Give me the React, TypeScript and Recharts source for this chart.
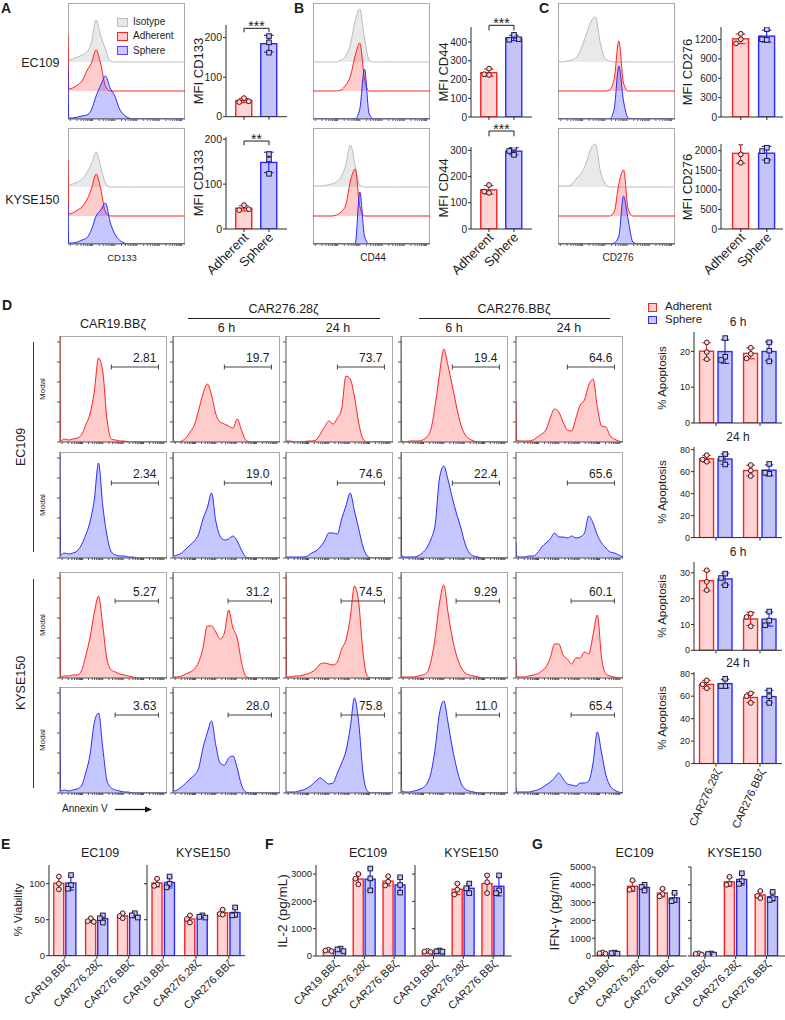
import React from 'react';
import { ComposedChart, Area, Bar, Scatter, XAxis, YAxis, ReferenceLine } from 'recharts';

/* ── Colours ──────────────────────────────────────── */
const RED = '#ff2020';
const BLUE = '#2a2aff';
const RED_FILL = '#ffd4d4';
const BLUE_FILL = '#c4c4f6';
const RED_AREA = 'rgba(255, 40, 40, 0.24)';
const BLUE_AREA = 'rgba(40, 40, 255, 0.26)';
const ISO_LINE = '#bbbbbb';
const ISO_AREA = 'rgba(175, 175, 175, 0.28)';
const INK = '#1c1c1c';
const AXIS = '#2b2b2b';
const FRAME = '#a9a9a9';
const FONT = '"Liberation Sans", Arial, sans-serif';

/* ── Flow histograms: x is % of the log axis ──────── */
const HIST_X = [0, 0.6, 4, 8, 12, 16, 20, 24, 28, 32, 36, 40, 44, 48, 52, 56, 60, 64, 68, 72, 76, 80, 84, 88, 92, 96, 100];

// A-C overlays (height above each trace's own baseline)
const A_EC109_ISO = [5, 2, 3, 5, 7, 10, 19, 42, 26, 13, 1, 0];
const A_EC109_ADH = [56, 2, 3, 6, 10, 20, 28, 41, 27, 5, 0];
const A_EC109_SPH = [53, 1, 1, 2, 3, 4, 9, 23, 34, 43, 31, 23, 10, 4, 1, 0];
const A_KYSE_ISO = [7, 2, 3, 5, 8, 14, 23, 35, 20, 4, 0];
const A_KYSE_ADH = [56, 2, 3, 6, 9, 16, 27, 42, 27, 4, 0];
const A_KYSE_SPH = [41, 1, 1, 2, 4, 6, 14, 28, 34, 41, 22, 10, 4, 1, 0];
const B_EC109_ISO = [0, 0, 0, 0, 0, 0, 0, 2, 6, 18, 41, 53, 24, 2, 0];
const B_EC109_ADH = [0, 0, 0, 0, 0, 0, 0, 1, 6, 15, 35, 48, 12, 0];
const B_EC109_SPH = [0, 0, 0, 0, 0, 0, 0, 0, 0, 0, 0, 10, 50, 5, 0];
const B_KYSE_ISO = [10, 1, 1, 1, 2, 3, 5, 10, 22, 42, 22, 2, 0];
const B_KYSE_ADH = [0, 0, 0, 0, 0, 0, 1, 4, 11, 35, 47, 10, 0];
const B_KYSE_SPH = [0, 0, 0, 0, 0, 0, 0, 0, 0, 0, 0, 52, 8, 0];
const C_EC109_ISO = [19, 1, 0, 1, 2, 5, 14, 27, 40, 45, 20, 4, 1, 0];
const C_EC109_ADH = [0, 0, 0, 0, 0, 0, 0, 0, 0, 0, 0, 0, 1, 12, 50, 8, 0];
const C_EC109_SPH = [0, 0, 0, 0, 0, 0, 0, 0, 0, 0, 0, 0, 0, 10, 53, 18, 1, 0];
const C_KYSE_ISO = [20, 1, 1, 1, 3, 9, 14, 24, 38, 43, 17, 4, 0];
const C_KYSE_ADH = [0, 0, 0, 0, 0, 0, 0, 0, 0, 0, 0, 0, 0, 4, 32, 46, 7, 0];
const C_KYSE_SPH = [0, 0, 0, 0, 0, 0, 0, 0, 0, 0, 0, 0, 0, 1, 8, 48, 24, 2, 0];

// D annexin V, % of mode, columns: CAR19.BBζ, 28ζ 6h, 28ζ 24h, BBζ 6h, BBζ 24h
const D_EC109_ADH = [
    [106, 1, 3, 2, 3, 4, 7, 17, 28, 50, 84, 70, 22, 3, 2, 1, 1, 0],
    [103, 1, 0, 1, 4, 10, 17, 32, 48, 58, 47, 28, 20, 18, 16, 14, 23, 12, 2, 0],
    [1, 1, 1, 0, 0, 0, 1, 1, 2, 8, 15, 21, 18, 24, 33, 66, 63, 45, 19, 3, 0],
    [102, 1, 0, 1, 1, 1, 2, 5, 13, 37, 68, 93, 76, 56, 35, 17, 7, 3, 1, 0],
    [40, 2, 1, 1, 1, 2, 5, 8, 12, 24, 33, 30, 20, 12, 11, 24, 37, 42, 57, 63, 35, 16, 15, 6, 3, 1, 0],
];
const D_EC109_SPH = [
    [105, 3, 5, 4, 5, 7, 13, 23, 36, 58, 95, 52, 22, 6, 3, 2, 2, 1, 1, 0],
    [105, 2, 3, 5, 9, 13, 17, 24, 39, 50, 65, 37, 22, 18, 19, 22, 17, 8, 1, 0],
    [1, 1, 1, 1, 1, 1, 2, 5, 7, 11, 17, 25, 25, 24, 39, 52, 65, 47, 29, 11, 2, 0],
    [105, 2, 1, 1, 1, 2, 5, 10, 19, 34, 80, 92, 78, 60, 44, 30, 14, 5, 2, 1, 0],
    [16, 2, 1, 1, 2, 2, 5, 11, 15, 19, 25, 21, 21, 20, 22, 20, 21, 25, 42, 35, 23, 15, 10, 6, 5, 3, 1],
];
const D_KYSE_ADH = [
    [104, 1, 2, 2, 3, 3, 7, 22, 40, 65, 82, 52, 18, 8, 6, 4, 3, 2, 1, 0],
    [104, 1, 1, 2, 4, 6, 9, 16, 30, 52, 52, 46, 39, 45, 68, 50, 40, 16, 2, 0],
    [104, 1, 1, 2, 2, 3, 4, 6, 9, 14, 15, 14, 13, 16, 29, 38, 60, 92, 75, 25, 2, 0],
    [104, 1, 1, 1, 1, 2, 3, 5, 17, 41, 75, 93, 65, 40, 22, 11, 5, 3, 2, 1, 0],
    [19, 2, 1, 1, 2, 3, 4, 7, 11, 20, 34, 34, 23, 19, 14, 20, 20, 26, 24, 43, 63, 20, 4, 2, 1, 0],
];
const D_KYSE_SPH = [
    [104, 2, 3, 2, 3, 4, 7, 20, 38, 70, 80, 45, 12, 5, 3, 2, 1, 1, 0],
    [104, 2, 3, 6, 10, 14, 18, 25, 45, 60, 72, 48, 30, 28, 35, 37, 25, 8, 1, 0],
    [1, 1, 1, 1, 2, 3, 5, 8, 12, 15, 12, 9, 10, 20, 30, 42, 65, 95, 70, 20, 2, 0],
    [104, 2, 1, 1, 2, 3, 5, 9, 20, 45, 80, 92, 70, 45, 25, 10, 4, 2, 1, 0],
    [5, 1, 1, 1, 1, 2, 3, 5, 8, 11, 15, 20, 14, 9, 8, 7, 10, 10, 12, 30, 61, 40, 18, 7, 3, 1, 0],
];
const D_PCT = [
    ['2.81', '19.7', '73.7', '19.4', '64.6'],
    ['2.34', '19.0', '74.6', '22.4', '65.6'],
    ['5.27', '31.2', '74.5', '9.29', '60.1'],
    ['3.63', '28.0', '75.8', '11.0', '65.4'],
];
const GATE_EC109 = [48, 92];
const GATE_KYSE = [51.5, 92];
const GATE_Y = [75, 75, 77, 78];
const MODAL_TICKS = [0, 20, 40, 60, 80, 100];

/* ── Bar data: replicate values ───────────────────── */
const MFI_GROUPS = ['Adherent', 'Sphere'];
const CD133_EC109_ADH = [47, 37, 39];
const CD133_EC109_SPH = [204, 188, 162];
const CD133_KYSE_ADH = [53, 42, 44];
const CD133_KYSE_SPH = [167, 155, 123];
const CD44_EC109_ADH = [258, 224, 228];
const CD44_EC109_SPH = [438, 412, 415];
const CD44_KYSE_ADH = [168, 138, 143];
const CD44_KYSE_SPH = [310, 298, 283];
const CD276_EC109_ADH = [1290, 1205, 1140];
const CD276_EC109_SPH = [1360, 1195, 1205];
const CD276_KYSE_ADH = [2200, 1905, 1690];
const CD276_KYSE_SPH = [2074, 1990, 1742];

const APO_GROUPS = ['CAR276.28ζ', 'CAR276.BBζ'];
const APO_6H_EC109_ADH = [[22.5, 19.8, 17.8], [21.0, 19.3, 18.0]];
const APO_6H_EC109_SPH = [[23.7, 18.5, 17.6], [22.5, 20.2, 17.2]];
const APO_24H_EC109_ADH = [[75, 69, 71], [66, 61, 56]];
const APO_24H_EC109_SPH = [[76, 71.8, 66.5], [67, 58, 59]];
const APO_6H_KYSE_ADH = [[31, 26.5, 23.3], [14.2, 12.9, 9.3]];
const APO_6H_KYSE_SPH = [[29.7, 28, 25.2], [15, 11.5, 9.7]];
const APO_24H_KYSE_ADH = [[74, 70.5, 67], [62.5, 60, 54]];
const APO_24H_KYSE_SPH = [[75.5, 69, 69], [65, 60, 54]];

const CAR_GROUPS = ['CAR19.BBζ', 'CAR276.28ζ', 'CAR276.BBζ'];
const VIAB_EC109_ADH = [[110, 100, 92], [52, 48, 47], [59, 55, 52]];
const VIAB_EC109_SPH = [[112, 98, 93], [56, 52, 46], [59, 56, 53]];
const VIAB_KYSE_ADH = [[107, 99, 97], [56, 51, 46], [64, 58, 57]];
const VIAB_KYSE_SPH = [[110, 100, 95], [56, 54, 53], [67, 57, 56]];
const IL2_EC109_ADH = [[230, 200, 180], [3000, 2830, 2620], [2920, 2720, 2580]];
const IL2_EC109_SPH = [[270, 240, 180], [3200, 2840, 2400], [2880, 2600, 2320]];
const IL2_KYSE_ADH = [[190, 160, 150], [2650, 2430, 2250], [2950, 2700, 2300]];
const IL2_KYSE_SPH = [[200, 170, 160], [2650, 2480, 2300], [2950, 2400, 2300]];
const IFN_EC109_ADH = [[200, 150, 130], [4250, 3780, 3720], [3780, 3480, 3350]];
const IFN_EC109_SPH = [[190, 160, 130], [4000, 3880, 3680], [3550, 3150, 3080]];
const IFN_KYSE_ADH = [[150, 120, 80], [4450, 4050, 4000], [3650, 3380, 3250]];
const IFN_KYSE_SPH = [[140, 110, 80], [4650, 4200, 4050], [3600, 3250, 3150]];

/* ── Helpers ──────────────────────────────────────── */
const LOG_TICKS: number[] = [];
[2, 21, 40, 59, 78, 97].forEach((d) => [1, 2, 3, 4, 5, 6, 7, 8, 9].forEach((k) => {
    const t = d + 19 * Math.log10(k);
    if (t <= 100) LOG_TICKS.push(Math.round(t * 10) / 10);
}));

const noTick = () => <g />;
const mean = (a: number[]) => a.reduce((s, v) => s + v, 0) / a.length;
const sd = (a: number[]) => {
    const m = mean(a);
    return Math.sqrt(a.reduce((s, v) => s + (v - m) ** 2, 0) / (a.length - 1));
};

// simple beeswarm: shift replicates sideways when they would overlap
const spread = (vals: number[], k: number, j: number) => {
    const placed: { v: number; o: number }[] = [];
    return vals.map((v) => {
        const used = placed.filter((q) => Math.abs(q.v - v) * k < 5).map((q) => q.o);
        const o = [0, -j, j, -2 * j, 2 * j].find((c) => !used.includes(c)) ?? 0;
        placed.push({ v, o });
        return o;
    });
};

type Kind = 'adh' | 'sph';
type BarSpec = { x: number; kind: Kind; pts: number[] };

const mfiBars = (adh: number[], sph: number[]): BarSpec[] => [
    { x: 0, kind: 'adh', pts: adh },
    { x: 1, kind: 'sph', pts: sph },
];
const pairBars = (adh: number[][], sph: number[][], off: number): BarSpec[] =>
    adh.flatMap((g, i) => [
        { x: i - off, kind: 'adh' as Kind, pts: g },
        { x: i + off, kind: 'sph' as Kind, pts: sph[i] },
    ]);

/* ── Text & rules ─────────────────────────────────── */
type LabelProps = { x: number; y: number; size?: number; rot?: number; align?: 'left' | 'center' | 'right'; bold?: boolean; children: React.ReactNode };
const Label: React.FC<LabelProps> = ({ x, y, size = 12, rot = 0, align = 'center', bold = false, children }) => {
    const tx = align === 'center' ? '-50%' : align === 'right' ? '-100%' : '0%';
    return (
        <div style={{
            position: 'absolute', left: x, top: y, fontSize: size, fontWeight: bold ? 700 : 400,
            lineHeight: 1, whiteSpace: 'nowrap', transform: `translate(${tx}, -50%) rotate(${rot}deg)`,
        }}>
            {children}
        </div>
    );
};

const Rule: React.FC<{ x: number; y: number; w: number; h: number; c?: string }> = ({ x, y, w, h, c = '#222' }) => (
    <div style={{ position: 'absolute', left: x, top: y, width: w, height: h, background: c }} />
);

const Swatch: React.FC<{ x: number; y: number; w: number; h: number; fill: string; line: string }> = ({ x, y, w, h, fill, line }) => (
    <div style={{ position: 'absolute', left: x, top: y, width: w, height: h, background: fill, border: `1.5px solid ${line}`, boxSizing: 'border-box' }} />
);

/* ── Overlaid histograms (A-C), one layer per trace ── */
const OV_W = 117;
const OV_H = 116;
const ISO_BASE = 57;
const ADH_BASE = 28;

// each layer spans the whole box; its own zero sits at `base` px above the box bottom
type TraceProps = { base: number; vals: number[]; stroke: string; fill: string; axis?: boolean };
const Trace: React.FC<TraceProps> = ({ base, vals, stroke, fill, axis = false }) => {
    const rows = HIST_X.map((x, i) => ({ x, v: vals[i] ?? 0 }));
    return (
        <div style={{ position: 'absolute', left: 0, top: 0 }}>
            <ComposedChart width={OV_W} height={OV_H + 3} data={rows} margin={{ top: 0, right: 0, bottom: 0, left: 0 }}>
                <XAxis type="number" dataKey="x" domain={[0, 100]} ticks={LOG_TICKS} interval={0} tick={noTick}
                    tickSize={axis ? 2 : 0} height={3} axisLine={axis ? { stroke: '#666' } : false}
                    tickLine={axis ? { stroke: '#666' } : false} allowDataOverflow />
                <YAxis type="number" domain={[-base, OV_H - base]} hide allowDataOverflow />
                <Area type="monotone" dataKey="v" baseValue={0} stroke={stroke} strokeWidth={1} fill={fill} fillOpacity={1}
                    isAnimationActive={false} dot={false} activeDot={false} />
            </ComposedChart>
        </div>
    );
};

type OverlayProps = { left: number; top: number; iso: number[]; adh: number[]; sph: number[] };
const OverlayHist: React.FC<OverlayProps> = ({ left, top, iso, adh, sph }) => (
    <div style={{ position: 'absolute', left, top, width: OV_W, height: OV_H }}>
        <div style={{ position: 'absolute', left: 0, top: 0, width: OV_W, height: OV_H, border: `1px solid ${FRAME}`, boxSizing: 'border-box' }} />
        <Trace base={ISO_BASE} vals={iso} stroke={ISO_LINE} fill={ISO_AREA} />
        <Trace base={ADH_BASE} vals={adh} stroke={RED} fill={RED_AREA} />
        <Trace base={0} vals={sph} stroke={BLUE} fill={BLUE_AREA} axis />
    </div>
);

/* ── Modal histograms (D) ─────────────────────────── */
const MH_W = 107;
const MH_H = 106;

const gateLabel = (text: string) => (props: any) => {
    const vb = props.viewBox || { x: 0, y: 0, width: 0 };
    return (
        <text x={vb.x + vb.width - 2} y={vb.y - 5} textAnchor="end" fontSize={12} fill={INK} fontFamily={FONT}>{text}</text>
    );
};

type ModalProps = { left: number; top: number; vals: number[]; kind: Kind; gate: number[]; gateY: number; pct: string };
const ModalHist: React.FC<ModalProps> = ({ left, top, vals, kind, gate, gateY, pct }) => {
    const rows = HIST_X.map((x, i) => ({ x, v: vals[i] ?? 0 }));
    return (
        <div style={{ position: 'absolute', left: left - 5, top }}>
            <div style={{ position: 'absolute', left: 5, top: 0, width: MH_W, height: MH_H, borderTop: `1px solid ${FRAME}`, borderRight: `1px solid ${FRAME}`, boxSizing: 'border-box' }} />
            <ComposedChart width={MH_W + 6} height={MH_H + 4} data={rows} margin={{ top: 0, right: 1, bottom: 0, left: 0 }}>
                <XAxis type="number" dataKey="x" domain={[0, 100]} ticks={LOG_TICKS} interval={0} tick={noTick}
                    tickSize={2} height={4} axisLine={{ stroke: '#555' }} tickLine={{ stroke: '#555' }} allowDataOverflow />
                <YAxis type="number" domain={[0, MH_H]} ticks={MODAL_TICKS} interval={0} tick={noTick}
                    tickSize={3} width={5} axisLine={{ stroke: '#555' }} tickLine={{ stroke: '#555' }} allowDataOverflow />
                <Area type="monotone" dataKey="v" stroke={kind === 'adh' ? RED : BLUE} strokeWidth={1}
                    fill={kind === 'adh' ? RED_AREA : BLUE_AREA} fillOpacity={1} isAnimationActive={false} dot={false} activeDot={false} />
                <ReferenceLine segment={[{ x: gate[0], y: gateY }, { x: gate[1], y: gateY }]} stroke="#444" ifOverflow="visible" label={gateLabel(pct)} />
                <ReferenceLine segment={[{ x: gate[0], y: gateY - 2.5 }, { x: gate[0], y: gateY + 2.5 }]} stroke="#444" ifOverflow="visible" />
                <ReferenceLine segment={[{ x: gate[1], y: gateY - 2.5 }, { x: gate[1], y: gateY + 2.5 }]} stroke="#444" ifOverflow="visible" />
            </ComposedChart>
        </div>
    );
};

/* ── Bar + replicate dots ─────────────────────────── */
const YW = 34;
const PAD_T = 26;

type Bracket = { y: number; leg: number; text: string };
type DotBarProps = {
    left: number; top: number; w: number; h: number;
    yMax: number; yTicks: number[]; yLabels?: boolean; tickFont?: number;
    xDomain: [number, number]; xTicks: number[]; xLabels?: string[];
    labelAngle?: number; labelFont?: number; bottom?: number;
    bars: BarSpec[]; barW: number; bracket?: Bracket;
};

const dot = (s: any) => {
    const { cx, cy, payload } = s;
    if (payload.kind === 'adh') {
        return <circle cx={cx} cy={cy} r={2.4} fill={RED_FILL} stroke="#3a1c1c" strokeWidth={1} />;
    }
    return <rect x={cx - 2.3} y={cy - 2.3} width={4.6} height={4.6} fill={BLUE_FILL} stroke="#1c1c3a" strokeWidth={1} />;
};

const DotBar: React.FC<DotBarProps> = (p) => {
    const k = p.h / p.yMax;
    const ppu = p.w / (p.xDomain[1] - p.xDomain[0]);
    const jx = (p.barW * 0.3) / ppu;
    const rows = p.bars.map((b) => ({ x: b.x, mean: mean(b.pts), sd: sd(b.pts), kind: b.kind }));
    const pts = p.bars.flatMap((b) => {
        const off = spread(b.pts, k, jx);
        return b.pts.map((v, i) => ({ x: b.x + off[i], y: v, kind: b.kind }));
    });
    const bottom = p.bottom ?? 6;

    // bar body with its own width, plus mean ± SD whisker
    const shape = (s: any) => {
        const { x, y, width, height, payload } = s;
        const col = payload.kind === 'adh' ? RED : BLUE;
        const fill = payload.kind === 'adh' ? RED_FILL : BLUE_FILL;
        const cx = x + width / 2;
        const bw = p.barW;
        const e = payload.sd * k;
        const cap = bw * 0.3;
        return (
            <g>
                <rect x={cx - bw / 2} y={y} width={bw} height={height} fill={fill} stroke={col} strokeWidth={1.4} />
                <line x1={cx} x2={cx} y1={y - e} y2={y + e} stroke={col} strokeWidth={1.2} />
                <line x1={cx - cap} x2={cx + cap} y1={y - e} y2={y - e} stroke={col} strokeWidth={1.2} />
                <line x1={cx - cap} x2={cx + cap} y1={y + e} y2={y + e} stroke={col} strokeWidth={1.2} />
            </g>
        );
    };

    const xTick = p.xLabels
        ? (t: any) => {
            const i = p.xTicks.indexOf(t.payload.value);
            const tx = t.x + 2;
            const ty = t.y + 1;
            return (
                <text x={tx} y={ty} dy="0.35em" textAnchor="end" transform={`rotate(${p.labelAngle ?? -45} ${tx} ${ty})`}
                    fontSize={p.labelFont ?? 11} fill={INK} fontFamily={FONT}>{p.xLabels![i]}</text>
            );
        }
        : noTick;
    const yTick = p.yLabels === false ? noTick : { fontSize: p.tickFont ?? 10, fill: INK, fontFamily: FONT };
    const b = p.bracket;

    return (
        <div style={{ position: 'absolute', left: p.left - YW, top: p.top - PAD_T }}>
            <ComposedChart width={YW + p.w + 6} height={PAD_T + p.h + bottom} data={rows} margin={{ top: PAD_T, right: 6, bottom: 0, left: 0 }}>
                <XAxis type="number" dataKey="x" domain={p.xDomain} ticks={p.xTicks} interval={0} allowDataOverflow
                    axisLine={{ stroke: AXIS }} tickLine={{ stroke: AXIS }} tickSize={3} height={bottom} tick={xTick} />
                <YAxis type="number" domain={[0, p.yMax]} ticks={p.yTicks} interval={0} allowDataOverflow width={YW}
                    axisLine={{ stroke: AXIS }} tickLine={{ stroke: AXIS }} tickSize={3} tickMargin={1} tick={yTick} />
                <Bar dataKey="mean" barSize={p.barW} shape={shape} isAnimationActive={false} />
                <Scatter data={pts} dataKey="y" shape={dot} isAnimationActive={false} />
                {b && [
                    <ReferenceLine key="b0" segment={[{ x: 0, y: b.y }, { x: 1, y: b.y }]} stroke={INK} ifOverflow="visible"
                        label={(lp: any) => {
                            const vb = lp.viewBox || { x: 0, y: 0, width: 0 };
                            return <text x={vb.x + vb.width / 2} y={vb.y + 2.5} textAnchor="middle" fontSize={14} fill={INK} fontFamily={FONT}>{b.text}</text>;
                        }} />,
                    <ReferenceLine key="b1" segment={[{ x: 0, y: b.y }, { x: 0, y: b.leg }]} stroke={INK} ifOverflow="visible" />,
                    <ReferenceLine key="b2" segment={[{ x: 1, y: b.y }, { x: 1, y: b.leg }]} stroke={INK} ifOverflow="visible" />,
                ]}
            </ComposedChart>
        </div>
    );
};

/* ── Layout ───────────────────────────────────────── */
const D_COLS = [60, 173, 285.5, 401, 515.5];
const D_ROWS = [336, 452, 572, 687];
const D_SETS = [D_EC109_ADH, D_EC109_SPH, D_KYSE_ADH, D_KYSE_SPH];
const D_KINDS: Kind[] = ['adh', 'sph', 'adh', 'sph'];

const App: React.FC = () => (
    <div style={{ position: 'absolute', left: 0, top: 0, width: 785, height: 1020, background: '#fff', fontFamily: FONT, color: INK, overflow: 'hidden' }}>
        {/* panel letters */}
        <Label x={1} y={8} size={14} bold align="left">A</Label>
        <Label x={294} y={8} size={14} bold align="left">B</Label>
        <Label x={539} y={8} size={14} bold align="left">C</Label>
        <Label x={2} y={305} size={14} bold align="left">D</Label>
        <Label x={1} y={844} size={14} bold align="left">E</Label>
        <Label x={265} y={844} size={14} bold align="left">F</Label>
        <Label x={532} y={844} size={14} bold align="left">G</Label>

        {/* A-C histograms */}
        <Label x={59.5} y={63} size={12.5} align="right">EC109</Label>
        <Label x={59.5} y={200} size={12.5} align="right">KYSE150</Label>
        <OverlayHist left={68} top={3} iso={A_EC109_ISO} adh={A_EC109_ADH} sph={A_EC109_SPH} />
        <OverlayHist left={68} top={128} iso={A_KYSE_ISO} adh={A_KYSE_ADH} sph={A_KYSE_SPH} />
        <OverlayHist left={313} top={3} iso={B_EC109_ISO} adh={B_EC109_ADH} sph={B_EC109_SPH} />
        <OverlayHist left={313} top={128} iso={B_KYSE_ISO} adh={B_KYSE_ADH} sph={B_KYSE_SPH} />
        <OverlayHist left={558} top={3} iso={C_EC109_ISO} adh={C_EC109_ADH} sph={C_EC109_SPH} />
        <OverlayHist left={558} top={128} iso={C_KYSE_ISO} adh={C_KYSE_ADH} sph={C_KYSE_SPH} />
        <Label x={122} y={258} size={9.5}>CD133</Label>
        <Label x={373} y={258} size={10}>CD44</Label>
        <Label x={618} y={258} size={10}>CD276</Label>

        {/* A legend */}
        <Swatch x={117} y={17.5} w={11} h={9} fill="#e8e8e8" line="#bdbdbd" />
        <Swatch x={117} y={32} w={11} h={9} fill="#ffcccc" line={RED} />
        <Swatch x={117} y={46} w={11} h={9} fill="#c8c8ff" line="#6b3cff" />
        <Label x={133} y={21.7} size={10} align="left">Isotype</Label>
        <Label x={133} y={36.3} size={10} align="left">Adherent</Label>
        <Label x={133} y={50.5} size={10} align="left">Sphere</Label>

        {/* A-C MFI bars */}
        <Label x={198.3} y={71} size={13} rot={-90}>MFI CD133</Label>
        <Label x={198.3} y={182.7} size={13} rot={-90}>MFI CD133</Label>
        <Label x={443.3} y={71.7} size={13} rot={-90}>MFI CD44</Label>
        <Label x={443.3} y={187.7} size={13} rot={-90}>MFI CD44</Label>
        <Label x={686.7} y={71.7} size={13} rot={-90}>MFI CD276</Label>
        <Label x={686.7} y={186.5} size={13} rot={-90}>MFI CD276</Label>
        <DotBar left={226} top={25} w={61} h={91.7} yMax={232} yTicks={[0, 100, 200]} tickFont={10.5}
            xDomain={[-0.72, 1.72]} xTicks={[0, 1]} bars={mfiBars(CD133_EC109_ADH, CD133_EC109_SPH)} barW={16}
            bracket={{ y: 223.6, leg: 213.5, text: '***' }} />
        <DotBar left={226} top={136.7} w={61} h={92} yMax={205} yTicks={[0, 100, 200]} tickFont={10.5}
            xDomain={[-0.72, 1.72]} xTicks={[0, 1]} xLabels={MFI_GROUPS} labelFont={13} bottom={60}
            bars={mfiBars(CD133_KYSE_ADH, CD133_KYSE_SPH)} barW={16} bracket={{ y: 196, leg: 186.5, text: '**' }} />
        <DotBar left={471} top={26.7} w={61} h={90} yMax={480} yTicks={[0, 100, 200, 300, 400]}
            xDomain={[-0.72, 1.72]} xTicks={[0, 1]} bars={mfiBars(CD44_EC109_ADH, CD44_EC109_SPH)} barW={16}
            bracket={{ y: 489, leg: 462, text: '***' }} />
        <DotBar left={471} top={146.7} w={61} h={82} yMax={313} yTicks={[0, 100, 200, 300]}
            xDomain={[-0.72, 1.72]} xTicks={[0, 1]} xLabels={MFI_GROUPS} labelFont={13} bottom={60}
            bars={mfiBars(CD44_KYSE_ADH, CD44_KYSE_SPH)} barW={16} bracket={{ y: 374, leg: 354, text: '***' }} />
        <DotBar left={721} top={26.7} w={62} h={90} yMax={1395} yTicks={[0, 300, 600, 900, 1200]}
            xDomain={[-0.76, 1.62]} xTicks={[0, 1]} bars={mfiBars(CD276_EC109_ADH, CD276_EC109_SPH)} barW={16} />
        <DotBar left={721} top={144} w={62} h={85} yMax={2170} yTicks={[0, 500, 1000, 1500, 2000]}
            xDomain={[-0.76, 1.62]} xTicks={[0, 1]} xLabels={MFI_GROUPS} labelFont={13} bottom={60}
            bars={mfiBars(CD276_KYSE_ADH, CD276_KYSE_SPH)} barW={16} />

        {/* D headers */}
        <Label x={113} y={324} size={12.5}>CAR19.BBζ</Label>
        <Label x={283.5} y={309} size={12.5}>CAR276.28ζ</Label>
        <Rule x={188} y={317.5} w={192} h={1.3} />
        <Label x={226.5} y={328} size={12.5}>6 h</Label>
        <Label x={338} y={328} size={12.5}>24 h</Label>
        <Label x={514} y={309} size={12.5}>CAR276.BBζ</Label>
        <Rule x={419} y={317.5} w={191} h={1.3} />
        <Label x={454} y={328} size={12.5}>6 h</Label>
        <Label x={569} y={328} size={12.5}>24 h</Label>

        {/* D row labels */}
        <Label x={20.7} y={447} size={12.5} rot={-90}>EC109</Label>
        <Rule x={32.5} y={341.7} w={1.6} h={210} c="#333" />
        <Label x={20.7} y={683} size={12.5} rot={-90}>KYSE150</Label>
        <Rule x={32.5} y={579} w={1.6} h={209} c="#333" />
        {D_ROWS.map((r) => (
            <Label key={`m${r}`} x={43} y={r + 53} size={8} rot={-90}>Modal</Label>
        ))}

        {/* D histograms */}
        {D_ROWS.map((top, ri) => D_COLS.map((left, ci) => (
            <ModalHist key={`h${ri}${ci}`} left={left} top={top} vals={D_SETS[ri][ci]} kind={D_KINDS[ri]}
                gate={ri < 2 ? GATE_EC109 : GATE_KYSE} gateY={GATE_Y[ri]} pct={D_PCT[ri][ci]} />
        )))}
        <Label x={62} y={809} size={10} align="left">Annexin V</Label>
        <svg style={{ position: 'absolute', left: 114, top: 805 }} width={40} height={9}>
            <line x1={1} y1={4.5} x2={33} y2={4.5} stroke="#111" strokeWidth={1.3} />
            <polygon points="38,4.5 31,1.5 31,7.5" fill="#111" />
        </svg>

        {/* D apoptosis bars */}
        <Swatch x={648} y={303} w={8.5} h={8.5} fill="#ffcccc" line={RED} />
        <Swatch x={648} y={315.5} w={8.5} h={8.5} fill="#c8c8ff" line={BLUE} />
        <Label x={665} y={307} size={11.5} align="left">Adherent</Label>
        <Label x={665} y={319.5} size={11.5} align="left">Sphere</Label>
        <Label x={738} y={321.7} size={12}>6 h</Label>
        <Label x={738} y={436.7} size={12}>24 h</Label>
        <Label x={738} y={551.7} size={12}>6 h</Label>
        <Label x={738} y={663.3} size={12}>24 h</Label>
        <Label x={663} y={377.8} size={11.5} rot={-90}>% Apoptosis</Label>
        <Label x={663} y={492} size={11.5} rot={-90}>% Apoptosis</Label>
        <Label x={663} y={605.9} size={11.5} rot={-90}>% Apoptosis</Label>
        <Label x={663} y={717.5} size={11.5} rot={-90}>% Apoptosis</Label>
        <DotBar left={694} top={332.3} w={88} h={91} yMax={25.4} yTicks={[0, 10, 20]} tickFont={9}
            xDomain={[-0.5, 1.5]} xTicks={[0, 1]} bars={pairBars(APO_6H_EC109_ADH, APO_6H_EC109_SPH, 0.21)} barW={14} />
        <DotBar left={694} top={446.7} w={88} h={90.6} yMax={82.4} yTicks={[0, 20, 40, 60, 80]} tickFont={9}
            xDomain={[-0.5, 1.5]} xTicks={[0, 1]} bars={pairBars(APO_24H_EC109_ADH, APO_24H_EC109_SPH, 0.21)} barW={14} />
        <DotBar left={694} top={561.7} w={88} h={88.3} yMax={34.2} yTicks={[0, 10, 20, 30]} tickFont={9}
            xDomain={[-0.5, 1.5]} xTicks={[0, 1]} bars={pairBars(APO_6H_KYSE_ADH, APO_6H_KYSE_SPH, 0.21)} barW={14} />
        <DotBar left={694} top={671.7} w={88} h={91.6} yMax={81.5} yTicks={[0, 20, 40, 60, 80]} tickFont={9}
            xDomain={[-0.5, 1.5]} xTicks={[0, 1]} xLabels={APO_GROUPS} labelAngle={-65} labelFont={11} bottom={80}
            bars={pairBars(APO_24H_KYSE_ADH, APO_24H_KYSE_SPH, 0.21)} barW={14} />

        {/* E viability */}
        <Label x={100} y={852.7} size={12.5}>EC109</Label>
        <Label x={203} y={852.7} size={12.5}>KYSE150</Label>
        <Label x={18.8} y={910.3} size={11.5} rot={-90}>% Viability</Label>
        <DotBar left={49.3} top={865} w={95.7} h={90.7} yMax={126} yTicks={[0, 50, 100]} tickFont={9.5}
            xDomain={[-0.5, 2.5]} xTicks={[0, 1, 2]} xLabels={CAR_GROUPS} labelFont={11} bottom={64}
            bars={pairBars(VIAB_EC109_ADH, VIAB_EC109_SPH, 0.19)} barW={10} />
        <DotBar left={146.7} top={865} w={98.3} h={90.7} yMax={126} yTicks={[0, 50, 100]} yLabels={false}
            xDomain={[-0.5, 2.5]} xTicks={[0, 1, 2]} xLabels={CAR_GROUPS} labelFont={11} bottom={64}
            bars={pairBars(VIAB_KYSE_ADH, VIAB_KYSE_SPH, 0.19)} barW={10} />

        {/* F IL-2 */}
        <Label x={368} y={852.7} size={12.5}>EC109</Label>
        <Label x={471.3} y={852.7} size={12.5}>KYSE150</Label>
        <Label x={283} y={910.5} size={13.5} rot={-90}>IL-2 (pg/mL)</Label>
        <DotBar left={316.3} top={865} w={96.7} h={91} yMax={3330} yTicks={[0, 1000, 2000, 3000]} tickFont={9.5}
            xDomain={[-0.62, 2.62]} xTicks={[0, 1, 2]} xLabels={CAR_GROUPS} labelFont={11} bottom={64}
            bars={pairBars(IL2_EC109_ADH, IL2_EC109_SPH, 0.2)} barW={10} />
        <DotBar left={414.7} top={865} w={96.6} h={91} yMax={3330} yTicks={[0, 1000, 2000, 3000]} yLabels={false}
            xDomain={[-0.62, 2.62]} xTicks={[0, 1, 2]} xLabels={CAR_GROUPS} labelFont={11} bottom={64}
            bars={pairBars(IL2_KYSE_ADH, IL2_KYSE_SPH, 0.2)} barW={10} />

        {/* G IFN-γ */}
        <Label x={634.7} y={852.7} size={12.5}>EC109</Label>
        <Label x={734.7} y={852.7} size={12.5}>KYSE150</Label>
        <Label x={554.7} y={911} size={13.5} rot={-90}>IFN-γ (pg/ml)</Label>
        <DotBar left={594.7} top={866.7} w={91.6} h={89} yMax={5000} yTicks={[0, 1000, 2000, 3000, 4000, 5000]} tickFont={9.5}
            xDomain={[-0.45, 2.6]} xTicks={[0, 1, 2]} xLabels={CAR_GROUPS} labelFont={11} bottom={64}
            bars={pairBars(IFN_EC109_ADH, IFN_EC109_SPH, 0.2)} barW={10} />
        <DotBar left={690.7} top={866.7} w={94} h={89} yMax={5000} yTicks={[0, 1000, 2000, 3000, 4000, 5000]} yLabels={false}
            xDomain={[-0.45, 2.6]} xTicks={[0, 1, 2]} xLabels={CAR_GROUPS} labelFont={11} bottom={64}
            bars={pairBars(IFN_KYSE_ADH, IFN_KYSE_SPH, 0.2)} barW={10} />
    </div>
);

export default App;
